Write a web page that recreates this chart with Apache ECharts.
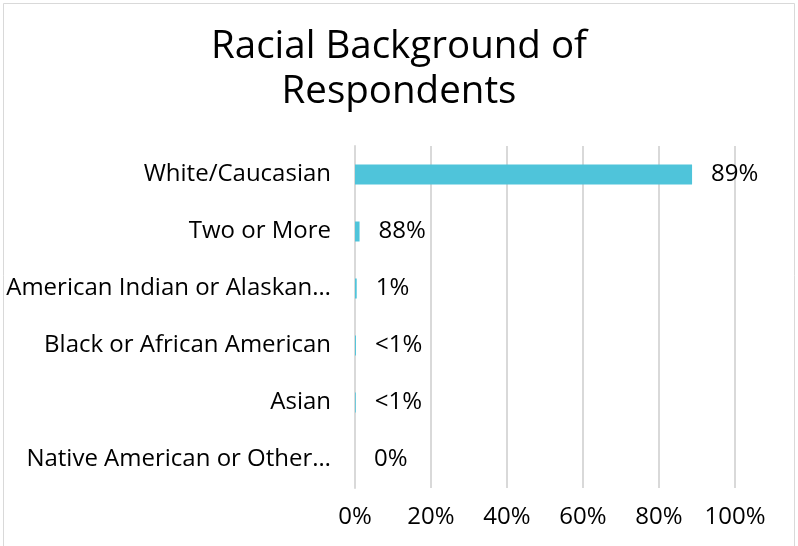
<!DOCTYPE html>
<html>
<head>
<meta charset="utf-8">
<script src="https://cdn.jsdelivr.net/npm/echarts@6/dist/echarts.min.js"></script>
<style>
html,body{margin:0;padding:0;background:#fff;}
#chart{width:798px;height:546px;}
</style>
</head>
<body>
<div id="chart"></div>
<script>
const categories = ["White/Caucasian", "Two or More", "American Indian or Alaskan…", "Black or African American", "Asian", "Native American or Other…"];
const values = [88.7, 1.2, 0.45, 0.25, 0.2, 0];
const dataLabels = ["89%", "88%", "1%", "<1%", "<1%", "0%"];
const xTicks = [0, 20, 40, 60, 80, 100];
const titleText = "Racial Background of\nRespondents";

const FONT = "Open Sans";
const chart = echarts.init(document.getElementById('chart'));
chart.setOption({
  backgroundColor: '#fff',
  animation: false,
  graphic: [{
    type: 'rect', shape: {x: 3.5, y: 3.5, width: 791, height: 560},
    style: {fill: 'none', stroke: '#d9d9d9', lineWidth: 1}, silent: true
  }],
  title: {
    text: titleText, left: 'center', top: 20,
    textStyle: {fontFamily: FONT, fontSize: 38.5, fontWeight: 'normal', color: '#000', lineHeight: 45}
  },
  grid: {left: 355, right: 63, top: 146, bottom: 58, containLabel: false, outerBoundsMode: 'none'},
  xAxis: {
    type: 'value', min: 0, max: 100, interval: 20,
    axisLine: {show: false}, axisTick: {show: false},
    splitLine: {lineStyle: {color: '#d9d9d9', width: 2}},
    axisLabel: {formatter: v => xTicks.includes(v) ? v + '%' : '', fontFamily: FONT, fontSize: 24, color: '#000', margin: 17}
  },
  yAxis: {
    type: 'category', data: categories, inverse: true,
    axisLine: {show: true, lineStyle: {color: '#d9d9d9', width: 2}}, axisTick: {show: false},
    axisLabel: {fontFamily: FONT, fontSize: 24, color: '#000', margin: 24}
  },
  series: [{
    type: 'bar', data: values, barWidth: 20,
    itemStyle: {color: '#4fc4da'},
    label: {
      show: true, position: 'right', distance: 19,
      formatter: p => dataLabels[p.dataIndex],
      fontFamily: FONT, fontSize: 24, color: '#000'
    }
  }]
});
</script>
</body>
</html>
